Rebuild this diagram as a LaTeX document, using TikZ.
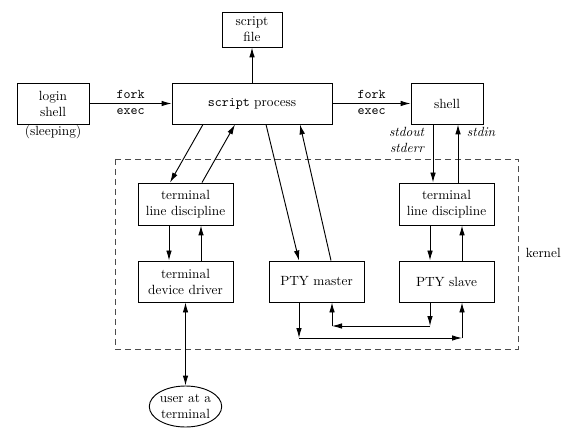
\documentclass[tikz,border=0pt]{standalone}
\usetikzlibrary{arrows.meta,calc,shapes.geometric}
\tikzset{
  box/.style={draw, align=center, inner sep=0pt, minimum width=71.25pt, minimum height=30.75pt},
  kernelbox/.style={dashed, dash pattern=on 4.5pt off 3pt, draw=black!70},
}
\begin{document}
\begin{tikzpicture}[x=0.75pt, y=-0.75pt, line width=0.7pt, >={Latex[length=7.5pt,width=4.2pt]}]
\useasboundingbox (0,0) rectangle (577,434);
%\draw[help lines, step=50] (0,0) grid (577,434);
%%%%%%%%%%%%%%%%%%%%%%%%%%%%%%% processes
\node[box, minimum width=54pt](login) at (53,103.5){login\\shell};
\node(sleep) at (53,132){(sleeping)};
\node[box, minimum width=120pt](sp) at (252,103.5){\texttt{script} process};
\node[box, minimum width=45pt, minimum height=26.25pt](file) at (252,29.5){script\\file};
\node[box, minimum width=54pt](shell) at (447,103.5){shell};
\node[anchor=east, align=right, font=\itshape](stdout) at (429,140){stdout\\stderr};
\node[anchor=west, font=\itshape](stdin) at (462,132){stdin};
%%%%%%%%%%%%%%%%%%%%%%%%%%%%%%% kernel
\draw[kernelbox] (115,159) rectangle (518,349);
\node[anchor=west](kernel) at (521,253){kernel};
\node[box, minimum height=31.5pt](lld) at (185.5,204){terminal\\line discipline};
\node[box](drv) at (185.5,281.5){terminal\\device driver};
\node[box](ptym) at (316.5,281.5){PTY master};
\node[box, minimum height=31.5pt](rld) at (446.5,204){terminal\\line discipline};
\node[box](ptys) at (446.5,281.5){PTY slave};
\node[draw, ellipse, align=center, inner sep=0pt, minimum width=53.25pt, minimum height=30.75pt](user) at (185.5,406.5){user at a\\terminal};
\coordinate (m1) at (299,338);
\coordinate (m2) at (462,338);
\coordinate (s1) at (430,326);
\coordinate (s2) at (332,326);
%%%%%%%%%%%%%%%%%%%%%%%%%%%%%%% arrows
\draw[->] (login) -- node[above]{\ttfamily fork} node[below]{\ttfamily exec}(sp);
\draw[->] (sp) -- node[above]{\ttfamily fork} node[below]{\ttfamily exec}(shell);
\draw[->] (sp) -- (file);
\draw[->] ($(sp.south)+(-49,0)$) -- ($(lld.north)+(-15.5,0)$);
\draw[->] ($(lld.north)+(16.5,0)$) -- ($(sp.south)+(-17,0)$);
\draw[->] ($(sp.south)+(14,0)$) -- ($(ptym.north)+(-17.5,0)$);
\draw[->] ($(ptym.north)+(14.5,0)$) -- ($(sp.south)+(48,0)$);
\draw[->] ($(shell.south)+(-14,0)$) -- ($(rld.north)+(-13.5,0)$);
\draw[->] ($(rld.north)+(11.5,0)$) -- ($(shell.south)+(11,0)$);
\draw[->] ($(lld.south)+(-16.5,0)$) -- ($(drv.north)+(-16.5,0)$);
\draw[->] ($(drv.north)+(15.5,0)$) -- ($(lld.south)+(15.5,0)$);
\draw[->] ($(rld.south)+(-16.5,0)$) -- ($(ptys.north)+(-16.5,0)$);
\draw[->] ($(ptys.north)+(15.5,0)$) -- ($(rld.south)+(15.5,0)$);
\draw[<->] (drv) -- (user);
\draw[->] (ptym.south -| m1) -- (m1);
\draw[->] (m1) -- (m2);
\draw[->] (m2) -- (ptys.south -| m2);
\draw[->] (ptys.south -| s1) -- (s1);
\draw[->] (s1) -- (s2);
\draw[->] (s2) -- (ptym.south -| s2);
\end{tikzpicture}
\end{document}
